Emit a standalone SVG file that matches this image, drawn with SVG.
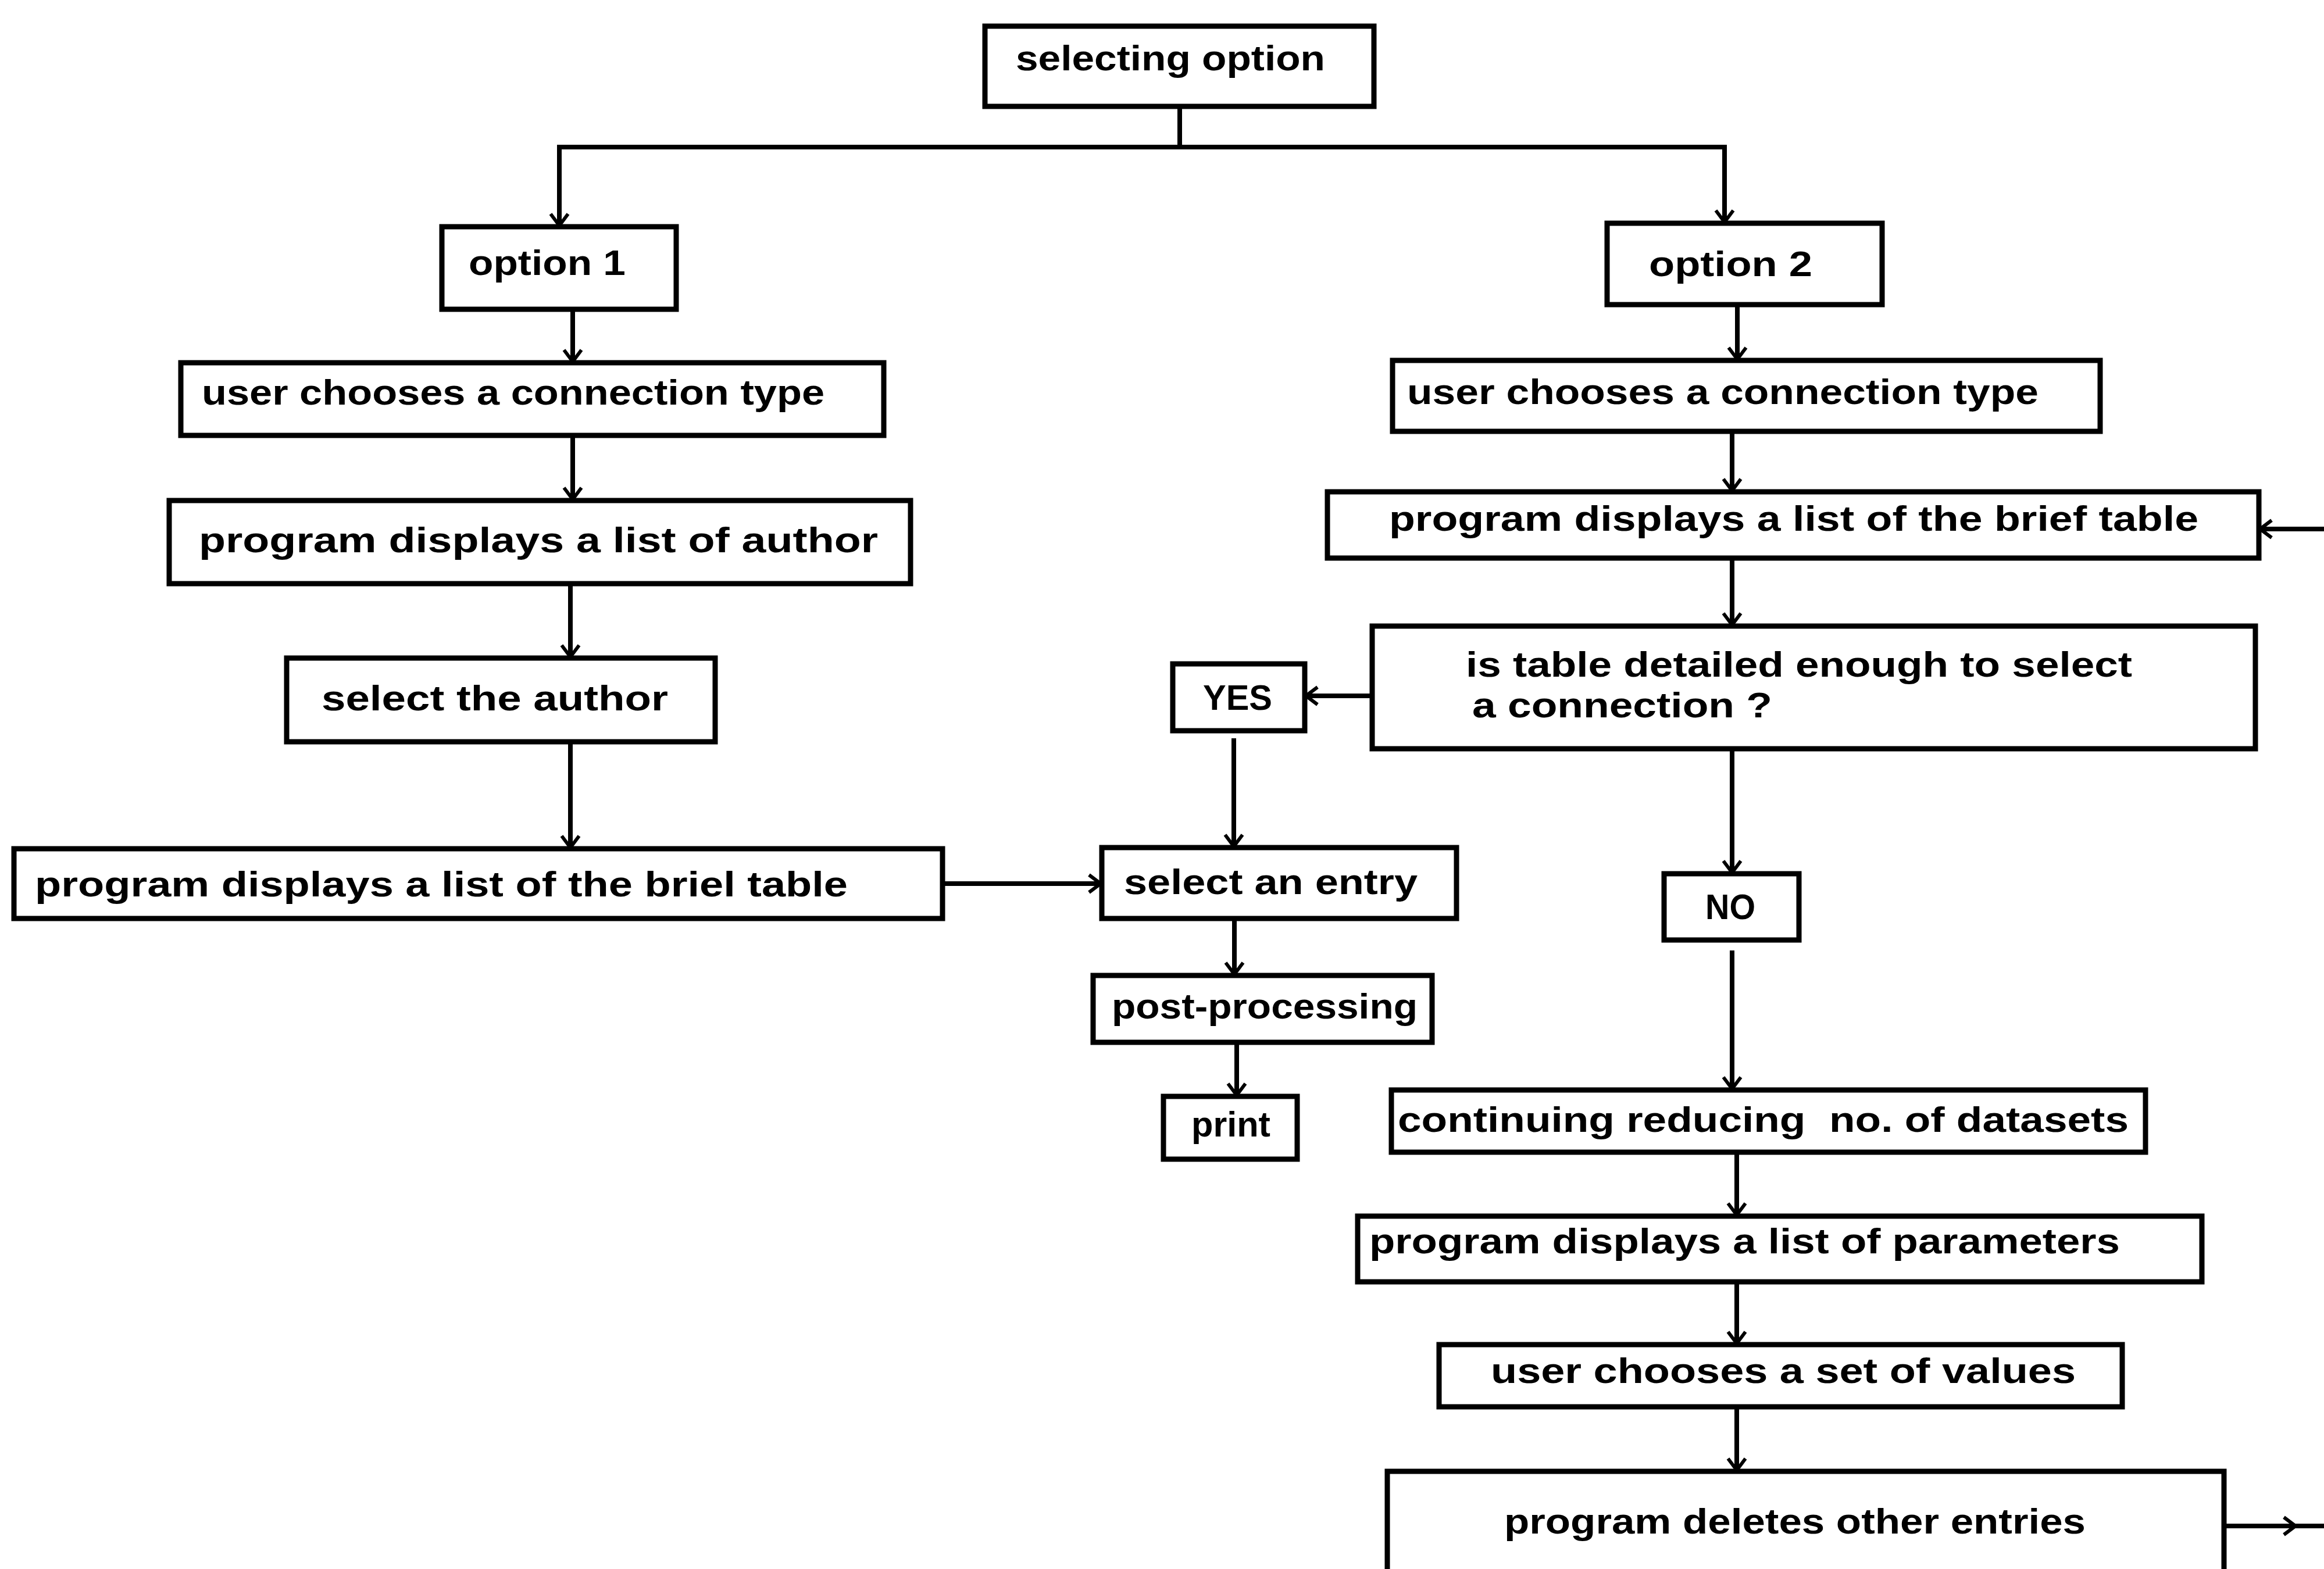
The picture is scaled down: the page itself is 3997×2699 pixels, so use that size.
<svg xmlns="http://www.w3.org/2000/svg" width="3997" height="2699" viewBox="0 0 3997 2699">
<style>
.box{fill:#fff;stroke:#000;stroke-width:9}
.t{font-family:"Liberation Sans","DejaVu Sans",Arial,sans-serif;font-weight:bold;font-size:62px;fill:#000}
.c{fill:none;stroke:#000;stroke-width:8}
</style>
<defs>
<marker id="ah" viewBox="-24 -18 28 36" markerWidth="28" markerHeight="36" refX="0" refY="0" orient="auto" markerUnits="userSpaceOnUse">
<path d="M-20,-15 L0,0 L-20,15" fill="none" stroke="#000" stroke-width="6"/>
</marker>
</defs>
<rect width="3997" height="2699" fill="#fff"/>

<g id="connectors">
<line class="c" x1="2029" y1="183" x2="2029" y2="253"/>
<line class="c" x1="958" y1="253" x2="2970" y2="253"/>
<line class="c" x1="962" y1="253" x2="962" y2="388" marker-end="url(#ah)"/>
<line class="c" x1="2966" y1="253" x2="2966" y2="382" marker-end="url(#ah)"/>
<line class="c" x1="985" y1="532" x2="985" y2="622" marker-end="url(#ah)"/>
<line class="c" x1="985" y1="749" x2="985" y2="859" marker-end="url(#ah)"/>
<line class="c" x1="981" y1="1004" x2="981" y2="1130" marker-end="url(#ah)"/>
<line class="c" x1="981" y1="1276" x2="981" y2="1458" marker-end="url(#ah)"/>
<line class="c" x1="1621" y1="1520" x2="1893" y2="1520" marker-end="url(#ah)"/>
<line class="c" x1="2122" y1="1270" x2="2122" y2="1456" marker-end="url(#ah)"/>
<line class="c" x1="2123" y1="1580" x2="2123" y2="1676" marker-end="url(#ah)"/>
<line class="c" x1="2127" y1="1793" x2="2127" y2="1884" marker-end="url(#ah)"/>
<line class="c" x1="2356" y1="1197" x2="2246" y2="1197" marker-end="url(#ah)"/>
<line class="c" x1="2988" y1="524" x2="2988" y2="618" marker-end="url(#ah)"/>
<line class="c" x1="2979" y1="742" x2="2979" y2="844" marker-end="url(#ah)"/>
<line class="c" x1="2979" y1="960" x2="2979" y2="1075" marker-end="url(#ah)"/>
<line class="c" x1="2979" y1="1288" x2="2979" y2="1501" marker-end="url(#ah)"/>
<line class="c" x1="2979" y1="1635" x2="2979" y2="1873" marker-end="url(#ah)"/>
<line class="c" x1="2987" y1="1982" x2="2987" y2="2090" marker-end="url(#ah)"/>
<line class="c" x1="2987" y1="2205" x2="2987" y2="2311" marker-end="url(#ah)"/>
<line class="c" x1="2987" y1="2420" x2="2987" y2="2529" marker-end="url(#ah)"/>
<line class="c" x1="3997" y1="910" x2="3887" y2="910" marker-end="url(#ah)"/>
<line class="c" x1="3825" y1="2625" x2="3948" y2="2625" marker-end="url(#ah)"/>
<line class="c" x1="3946" y1="2625" x2="3997" y2="2625"/>
</g>

<g id="n-selecting-option">
<rect class="box" x="1694" y="45" width="669" height="138"/>
<text class="t" x="1747" y="121" font-size="64" textLength="532" lengthAdjust="spacingAndGlyphs">selecting option</text>
</g>
<g id="n-option1">
<rect class="box" x="760" y="390" width="403" height="142"/>
<text class="t" x="806" y="473" textLength="270" lengthAdjust="spacingAndGlyphs">option 1</text>
</g>
<g id="n-user-conn-left">
<rect class="box" x="311" y="624" width="1209" height="125"/>
<text class="t" x="347" y="696" textLength="1071" lengthAdjust="spacingAndGlyphs">user chooses a connection type</text>
</g>
<g id="n-list-author">
<rect class="box" x="291" y="861" width="1275" height="143"/>
<text class="t" x="342" y="950" textLength="1168" lengthAdjust="spacingAndGlyphs">program displays a list of author</text>
</g>
<g id="n-select-author">
<rect class="box" x="493" y="1132" width="737" height="144"/>
<text class="t" x="553" y="1222" textLength="596" lengthAdjust="spacingAndGlyphs">select the author</text>
</g>
<g id="n-brief-left">
<rect class="box" x="24" y="1460" width="1597" height="120"/>
<text class="t" x="60" y="1542" textLength="1398" lengthAdjust="spacingAndGlyphs">program displays a list of the briel table</text>
</g>
<g id="n-select-entry">
<rect class="box" x="1895" y="1458" width="610" height="122"/>
<text class="t" x="1933" y="1538" font-size="66" textLength="505" lengthAdjust="spacingAndGlyphs">select an entry</text>
</g>
<g id="n-yes">
<rect class="box" x="2017" y="1142" width="227" height="115"/>
<text class="t" x="2069" y="1221" font-size="64" textLength="119" lengthAdjust="spacingAndGlyphs">YES</text>
</g>
<g id="n-post">
<rect class="box" x="1880" y="1678" width="583" height="115"/>
<text class="t" x="1912" y="1752" font-size="64" textLength="526" lengthAdjust="spacingAndGlyphs">post-processing</text>
</g>
<g id="n-print">
<rect class="box" x="2001" y="1886" width="230" height="108"/>
<text class="t" x="2049" y="1955" font-size="64" textLength="136" lengthAdjust="spacingAndGlyphs">print</text>
</g>
<g id="n-option2">
<rect class="box" x="2764" y="384" width="473" height="140"/>
<text class="t" x="2836" y="475" font-size="66" textLength="281" lengthAdjust="spacingAndGlyphs">option 2</text>
</g>
<g id="n-user-conn-right">
<rect class="box" x="2395" y="620" width="1217" height="122"/>
<text class="t" x="2420" y="695" textLength="1086" lengthAdjust="spacingAndGlyphs">user chooses a connection type</text>
</g>
<g id="n-brief-right">
<rect class="box" x="2283" y="846" width="1602" height="114"/>
<text class="t" x="2389" y="913" textLength="1392" lengthAdjust="spacingAndGlyphs">program displays a list of the brief table</text>
</g>
<g id="n-decision">
<rect class="box" x="2360" y="1077" width="1519" height="211"/>
<text class="t" x="2521" y="1164" textLength="1146" lengthAdjust="spacingAndGlyphs">is table detailed enough to select</text>
<text class="t" x="2532" y="1234" textLength="516" lengthAdjust="spacingAndGlyphs">a connection ?</text>
</g>
<g id="n-no">
<rect class="box" x="2862" y="1503" width="232" height="114"/>
<text class="t" x="2933" y="1581" font-size="64" textLength="86" lengthAdjust="spacingAndGlyphs">NO</text>
</g>
<g id="n-continuing">
<rect class="box" x="2393" y="1875" width="1297" height="107"/>
<text class="t" x="2404" y="1947" textLength="1257" lengthAdjust="spacingAndGlyphs" xml:space="preserve">continuing reducing  no. of datasets</text>
</g>
<g id="n-parameters">
<rect class="box" x="2335" y="2092" width="1452" height="113"/>
<text class="t" x="2355" y="2156" textLength="1291" lengthAdjust="spacingAndGlyphs">program displays a list of parameters</text>
</g>
<g id="n-values">
<rect class="box" x="2475" y="2313" width="1175" height="107"/>
<text class="t" x="2564" y="2379" textLength="1006" lengthAdjust="spacingAndGlyphs">user chooses a set of values</text>
</g>
<g id="n-deletes">
<rect class="box" x="2386" y="2531" width="1439" height="220"/>
<text class="t" x="2587" y="2638" textLength="1000" lengthAdjust="spacingAndGlyphs">program deletes other entries</text>
</g>
</svg>
